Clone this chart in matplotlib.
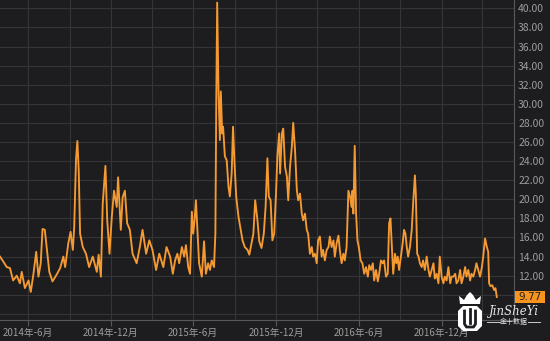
import numpy as np
import pandas as pd
import matplotlib
matplotlib.use("Agg")
import matplotlib.pyplot as plt
from matplotlib.patches import Polygon, Rectangle

plt.rcParams['font.family'] = ['Noto Sans CJK SC', 'DejaVu Sans']

# =============================================================================
# DATA
# =============================================================================
start_date = "2014-03-31"

day_offset = [
    0, 7, 15, 22, 29, 37, 44, 48, 55, 63, 68, 74, 80, 85, 90, 94, 99, 103,
    109, 116, 125, 133, 140, 144, 151, 156, 161, 164, 168, 171, 174, 177,
    183, 190, 197, 205, 214, 218, 223, 227, 233, 237, 242, 247, 252, 258,
    261, 267, 271, 276, 281, 287, 293, 302, 309, 315, 323, 330, 337, 345,
    352, 361, 368, 376, 382, 387, 392, 396, 402, 407, 411, 416, 420, 424,
    427, 430, 433, 437, 440, 446, 451, 455, 460, 464, 468, 473, 476, 478,
    480, 483, 486, 488, 491, 493, 497, 501, 505, 508, 512, 515, 518, 522,
    527, 532, 536, 541, 547, 551, 556, 560, 564, 569, 573, 578, 583, 587,
    591, 594, 598, 602, 606, 610, 613, 617, 619, 623, 626, 630, 634, 637,
    641, 645, 648, 652, 656, 659, 663, 667, 670, 674, 678, 681, 685, 689,
    692, 696, 700, 703, 707, 711, 714, 718, 722, 726, 729, 733, 737, 740,
    744, 748, 751, 755, 759, 762, 766, 770, 774, 777, 779, 781, 784, 787,
    790, 793, 797, 801, 805, 809, 813, 816, 820, 824, 827, 831, 835, 838,
    842, 846, 849, 853, 857, 860, 863, 866, 869, 873, 876, 879, 882, 886,
    890, 893, 896, 899, 902, 906, 910, 913, 917, 919, 922, 925, 928, 932,
    935, 939, 943, 947, 950, 954, 958, 961, 965, 969, 972, 976, 980, 983,
    987, 991, 995, 998, 1002, 1006, 1009, 1013, 1017, 1020, 1024, 1028,
    1031, 1035, 1039, 1042, 1046, 1050, 1053, 1057, 1061, 1065, 1068, 1072,
    1076, 1079, 1081, 1084, 1088, 1092, 1095, 1098,
]

vix = [
    14.0, 13.5, 12.9, 12.8, 11.5, 12.0, 11.2, 12.4, 10.7, 11.5, 10.3, 12.2,
    14.5, 11.9, 13.3, 16.9, 16.8, 15.0, 12.4, 11.4, 12.1, 12.8, 14.0, 12.9,
    15.4, 16.6, 14.7, 17.1, 24.2, 26.1, 23.0, 16.4, 15.0, 14.3, 12.9, 14.0,
    12.4, 14.2, 11.9, 19.5, 23.5, 17.8, 14.3, 18.1, 20.9, 19.2, 22.3, 16.8,
    20.2, 20.9, 17.5, 16.8, 14.3, 13.3, 15.0, 16.8, 14.3, 15.7, 14.7, 12.6,
    14.3, 12.9, 15.0, 14.0, 12.2, 13.6, 14.3, 13.3, 15.0, 14.0, 15.2, 12.9,
    12.2, 18.7, 16.4, 17.8, 19.9, 16.1, 13.3, 11.9, 15.6, 12.2, 13.3, 12.6,
    13.6, 12.9, 16.4, 30.4, 40.6, 31.1, 26.2, 31.3, 26.9, 27.6, 24.5, 24.1,
    21.3, 20.3, 22.7, 27.6, 24.1, 20.3, 18.2, 16.8, 15.7, 15.0, 14.7, 14.2,
    15.4, 16.4, 19.9, 17.8, 15.6, 14.9, 16.4, 19.2, 24.3, 20.3, 19.9, 15.7,
    16.4, 20.6, 24.5, 26.9, 22.7, 26.9, 27.4, 23.4, 22.4, 19.9, 23.4, 25.5,
    28.0, 25.2, 21.0, 19.9, 20.6, 18.5, 17.8, 18.5, 16.8, 16.4, 14.3, 15.0,
    14.0, 14.3, 13.3, 15.7, 16.1, 14.0, 14.7, 13.6, 14.7, 15.0, 16.1, 15.0,
    15.7, 14.0, 15.4, 16.2, 14.7, 13.3, 14.3, 13.6, 15.0, 20.9, 20.2, 19.2,
    20.9, 18.5, 25.6, 18.5, 15.7, 15.0, 13.6, 13.3, 12.2, 12.9, 11.9, 13.1,
    12.6, 13.3, 11.5, 12.6, 11.4, 12.2, 13.6, 13.3, 13.6, 11.9, 12.2, 17.5,
    18.0, 15.0, 12.2, 14.3, 13.3, 14.0, 12.6, 14.0, 15.4, 16.8, 16.4, 15.0,
    14.0, 15.0, 16.8, 19.5, 22.5, 20.6, 14.3, 14.0, 13.3, 12.9, 13.6, 12.6,
    14.0, 12.6, 11.9, 12.6, 13.3, 11.7, 12.2, 11.2, 14.0, 11.9, 11.2, 11.9,
    11.5, 12.9, 11.2, 11.9, 11.9, 12.2, 11.2, 11.5, 12.6, 11.2, 11.9, 12.9,
    11.9, 12.6, 11.5, 12.2, 11.9, 12.6, 13.3, 12.6, 11.9, 12.9, 14.0, 15.9,
    15.0, 14.5, 11.2, 10.9, 11.0, 10.5, 10.7, 9.77,
]

y_ticks = list(range(12, 41, 2))
grid_levels = list(range(8, 41, 2))
label_months = ["2014-06", "2014-12", "2015-06", "2015-12", "2016-06", "2016-12"]
grid_months = pd.date_range("2014-06-01", "2017-03-01", freq="3MS")
last_label = "9.77"

# =============================================================================
# STYLE
# =============================================================================
BG = "#1d1d1f"
GRID = "#353538"
AXIS = "#58585c"
LINE = "#f59a32"
TEXT = "#9c9c9c"
BOX = "#f7931e"

W, H = 550, 341


def px(x, y):
    """pixel position (from top-left) -> figure fraction"""
    return (x / W, (H - y) / H)


dates = pd.Timestamp(start_date) + pd.to_timedelta(day_offset, unit="D")

fig = plt.figure(figsize=(5.5, 3.41), dpi=100, facecolor=BG)
ax = fig.add_axes([0.0, 21 / H, 514 / W, 320 / H])
ax.set_facecolor(BG)

for lv in grid_levels:
    ax.axhline(lv, color=GRID, lw=0.8, zorder=1)
for gm in grid_months:
    ax.axvline(gm, color=GRID, lw=0.8, zorder=1)

ax.plot(dates, vix, color=LINE, lw=1.35, zorder=3, solid_joinstyle="round")

ax.set_xlim(pd.Timestamp(start_date), pd.Timestamp(start_date) + pd.Timedelta(days=1136))
ax.set_ylim(7.36, 40.87)

for side in ["left", "top"]:
    ax.spines[side].set_visible(False)
ax.spines["right"].set_color(AXIS)
ax.spines["bottom"].set_color(AXIS)

ax.yaxis.tick_right()
ax.set_yticks(y_ticks)
ax.set_yticklabels([f"{v:.2f}" for v in y_ticks])
ax.tick_params(axis="y", length=0, pad=3, labelsize=7.5, colors=TEXT)

tick_dates = [pd.Timestamp(m + "-01") for m in label_months]
ax.set_xticks(tick_dates)
ax.set_xticklabels([f"{d.year}年-{d.month}月" for d in tick_dates])
ax.tick_params(axis="x", length=4, width=0.8, color=AXIS, pad=1.5,
               labelsize=7, labelcolor=TEXT)

# last value box on the right axis
fig.patches.append(Rectangle(px(515, 303), 30 / W, 12 / H, transform=fig.transFigure,
                             fc=BOX, ec="none", zorder=4))
fig.text(*px(518, 297), last_label, ha="left", va="center", fontsize=7.5,
         color="#222222", family="DejaVu Sans", zorder=5)

# =============================================================================
# WATERMARK (logo)
# =============================================================================
shield = [px(463, 306), px(477, 306), px(482, 311), px(482, 326),
          px(477, 331), px(463, 331), px(458, 326), px(458, 311)]
fig.patches.append(Polygon(shield, closed=True, transform=fig.transFigure,
                           fc="white", ec="none", zorder=6))
crown = [px(460, 304), px(459, 296), px(464, 300), px(467, 295), px(470, 292),
         px(473, 295), px(476, 300), px(481, 296), px(480, 304)]
fig.patches.append(Polygon(crown, closed=True, transform=fig.transFigure,
                           fc="white", ec="none", zorder=6))
ux = [464.5, 464.5, 466.5, 473.5, 475.5, 475.5]
uy = [311, 324, 327, 327, 324, 311]
fig.add_artist(plt.Line2D([x / W for x in ux], [(H - y) / H for y in uy],
                          transform=fig.transFigure, color=BG, lw=2.0, zorder=7))
fig.add_artist(plt.Line2D([470 / W, 470 / W], [(H - 309) / H, (H - 323) / H],
                          transform=fig.transFigure, color=BG, lw=2.0, zorder=7))

fig.text(*px(514, 311), "JinSheYi", ha="center", va="center",
         fontsize=8.5, color="#e8e8e8", style="italic", family="DejaVu Serif", zorder=7)
fig.text(*px(514, 322), "金十数据", ha="center", va="center",
         fontsize=5, color="#e8e8e8", zorder=7)
for x0, x1 in [(487, 500), (528, 540)]:
    fig.add_artist(plt.Line2D([x0 / W, x1 / W], [(H - 322) / H] * 2,
                              transform=fig.transFigure, color="#e8e8e8", lw=0.6, zorder=7))

fig.savefig("out.png", dpi=100, facecolor=BG)
print("Saved: out.png")
